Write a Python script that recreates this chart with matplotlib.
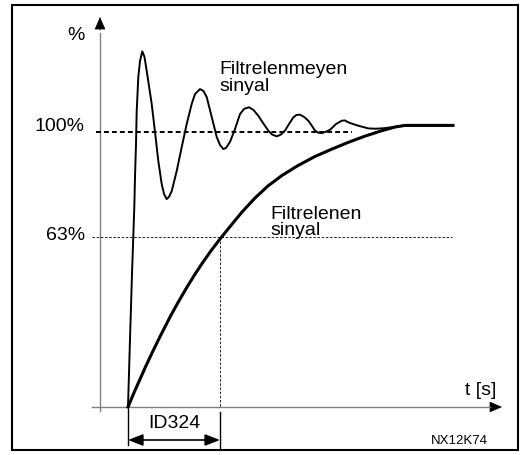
import numpy as np
import matplotlib
matplotlib.use("Agg")
import matplotlib.pyplot as plt
from matplotlib.patches import Rectangle, FancyArrowPatch, ArrowStyle

plt.rcParams['font.family'] = ['Liberation Sans', 'DejaVu Sans']

# time in units of the filter time constant (ID324 = 1), level in percent
unfilt_t = [0.0, 0.0217, 0.0435, 0.0685, 0.0761, 0.0870, 0.0946, 0.1120, 0.1304, 0.1554,
            0.1793, 0.2033, 0.2283, 0.2576, 0.2935, 0.3293, 0.3663, 0.3913, 0.4207, 0.4457,
            0.4750, 0.5293, 0.5837, 0.6380, 0.6924, 0.7283, 0.7826, 0.8207, 0.8554, 0.9098,
            0.9641, 1.0, 1.0359, 1.0652, 1.1087, 1.1630, 1.2174, 1.2609, 1.3152, 1.3641,
            1.4163, 1.4674, 1.5250, 1.5652, 1.6163, 1.6630, 1.7065, 1.75, 1.7967, 1.8315,
            1.8696, 1.9130, 1.9598, 2.0, 2.0326, 2.0652, 2.1054, 2.1522, 2.1957, 2.2609,
            2.3228, 2.3587, 2.3946, 2.4457, 2.5033, 2.6120, 2.6848, 2.7576, 2.8663, 2.9565,
            3.0652, 3.5326]
unfilt_p = [0.0, 24.7, 48.4, 72.7, 83.6, 95.6, 107.6, 120.0, 125.8, 129.3,
            127.3, 122.2, 116.7, 110.2, 100.0, 89.5, 81.1, 77.5, 75.6, 76.4,
            78.5, 85.8, 94.5, 102.9, 110.2, 113.8, 115.6, 114.9, 112.7, 105.5,
            98.2, 95.3, 93.8, 94.2, 96.4, 101.1, 106.5, 108.4, 109.0, 108.0,
            105.9, 103.3, 100.5, 99.1, 98.4, 99.1, 100.5, 102.9, 105.3, 106.2,
            106.3, 105.5, 104.1, 102.2, 100.5, 99.8, 99.6, 100.1, 100.8, 102.9,
            104.1, 104.2, 103.5, 102.9, 102.3, 101.3, 101.2, 101.3, 101.7, 102.2,
            102.4, 102.4]

filt_t = [0.0, 0.0652, 0.1304, 0.1957, 0.2717, 0.3587, 0.4565, 0.5435, 0.6413, 0.7283,
          0.8152, 0.9022, 1.0, 1.1087, 1.2391, 1.3804, 1.5217, 1.6739, 1.8478, 2.0326,
          2.2174, 2.3913, 2.5761, 2.7609, 2.9022, 3.0109, 3.5326]
filt_p = [0.0, 5.2, 10.1, 15.0, 20.4, 26.3, 32.7, 38.0, 43.6, 48.3,
          52.7, 56.8, 61.1, 65.6, 70.9, 76.0, 80.4, 84.2, 87.8, 91.1,
          93.8, 96.2, 98.5, 100.5, 101.8, 102.4, 102.4]

level_100 = 100.0
level_63 = 61.8
time_const = 1.0

fig = plt.figure(figsize=(5.24, 4.56), dpi=100)
ax = fig.add_axes([0, 0, 1, 1])
ax.set_xlim(-1.3913, 4.3043)
ax.set_ylim(-17.4545, 148.3636)
ax.axis('off')

# outer frame
fig.add_artist(Rectangle((12 / 524, 5 / 456), 506 / 524, 445 / 456,
                         transform=fig.transFigure, fill=False,
                         edgecolor='black', linewidth=1.5))

# axes with arrows
axis_col = '#808080'
ax.plot([-0.304, -0.304], [-1.5, 136], color=axis_col, lw=1.0)
ax.add_patch(FancyArrowPatch((-0.304, 137), (-0.304, 141.8),
                             arrowstyle=ArrowStyle('-|>', head_length=8, head_width=3.5),
                             mutation_scale=1, color='black', lw=0.5,
                             shrinkA=0, shrinkB=0))
ax.plot([-0.391, 3.94], [0, 0], color=axis_col, lw=1.0)
ax.add_patch(FancyArrowPatch((3.93, 0), (4.065, 0),
                             arrowstyle=ArrowStyle('-|>', head_length=8, head_width=3.5),
                             mutation_scale=1, color='black', lw=0.5,
                             shrinkA=0, shrinkB=0))

# reference lines
ax.plot([-0.35, 2.435], [level_100, level_100], color='black', lw=1.4,
        linestyle=(0, (2.5, 1.6)))
ax.plot([-0.391, 3.52], [level_63, level_63], color='black', lw=0.6,
        linestyle=(0, (3, 2)))
ax.plot([time_const, time_const], [level_63, 0], color='black', lw=0.6,
        linestyle=(0, (3, 2)))

# curves
ax.plot(unfilt_t, unfilt_p, color='black', lw=1.4, solid_joinstyle='round')
ax.plot(filt_t, filt_p, color='black', lw=2.2, solid_joinstyle='round')

# time constant marker
ax.plot([0, 0], [-0.7, -13.8], color='black', lw=1.0)
ax.plot([time_const, time_const], [-1.8, -14.9], color='black', lw=1.0)
ax.add_patch(FancyArrowPatch((0, -12), (time_const, -12),
                             arrowstyle=ArrowStyle('<|-|>', head_length=9, head_width=3.5),
                             mutation_scale=1, color='black', lw=1.2,
                             shrinkA=0, shrinkB=0))
ax.text(0.5, -5.8, 'ID324', fontsize=14, ha='center', va='center')

# labels
ax.text(-0.47, 135.3, '%', fontsize=14, ha='right', va='center')
ax.text(-0.47, 102.5, '100%', fontsize=14, ha='right', va='center')
ax.text(-0.47, 62.9, '63%', fontsize=14, ha='right', va='center')
ax.text(0.99, 120.0, 'Filtrelenmeyen\nsinyal', fontsize=14, ha='left', va='center',
        linespacing=1.0)
ax.text(1.55, 67.5, 'Filtrelenen\nsinyal', fontsize=14, ha='left', va='center',
        linespacing=0.95)
ax.text(3.83, 6.2, 't [s]', fontsize=14, ha='center', va='center')
ax.text(3.60, -12.0, 'NX12K74', fontsize=9.5, ha='center', va='center')

fig.savefig('out.png', dpi=100)
